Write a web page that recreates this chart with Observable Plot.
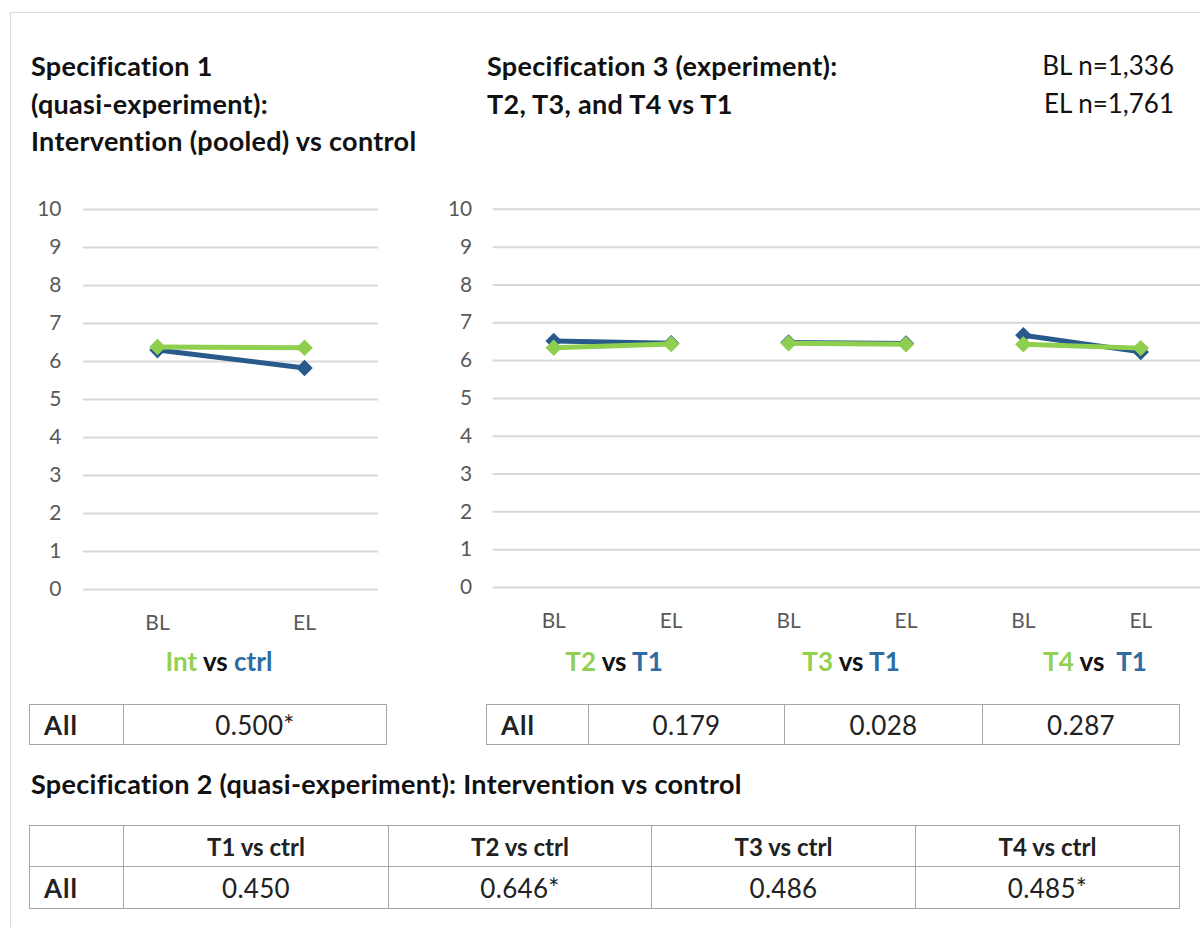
<!DOCTYPE html>
<html><head><meta charset="utf-8">
<script src="https://cdn.jsdelivr.net/npm/d3@7"></script>
<script src="https://cdn.jsdelivr.net/npm/@observablehq/plot@0.6"></script>
<style>
html,body{margin:0;padding:0;background:#fff;overflow:hidden;}
#root{position:relative;width:1200px;height:927px;overflow:hidden;font-family:Lato,"Open Sans",sans-serif;color:#111;}
.abs{position:absolute;}
.title{font-weight:700;font-size:27px;letter-spacing:0.3px;line-height:37.5px;white-space:nowrap;}
.ntext{font-weight:400;font-size:26px;line-height:37.5px;text-align:right;white-space:nowrap;}
.sub{font-weight:700;font-size:26px;white-space:nowrap;transform:translateX(-50%);line-height:28px;}
table{border-collapse:collapse;position:absolute;table-layout:fixed;}
td{border:1.5px solid #a6a6a6;padding:0;text-align:center;font-size:26px;letter-spacing:0.3px;color:#222;white-space:nowrap;}
td.lab{text-align:left;padding-left:14px;font-weight:700;letter-spacing:1px;}
td.hd{font-weight:700;font-size:24px;letter-spacing:0;}
</style></head>
<body><div id="root">
<div class="abs" style="left:10px;top:12px;width:1300px;height:1000px;border-top:1.5px solid #d9d9d9;border-left:1.5px solid #d9d9d9;"></div>
<div class="abs title" style="left:31px;top:47px;">Specification 1<br>(quasi-experiment):<br>Intervention (pooled) vs control</div>
<div class="abs title" style="left:487px;top:47px;">Specification 3 (experiment):<br>T2, T3, and T4 vs T1</div>
<div class="abs ntext" style="right:26px;top:47px;">BL n=1,336<br>EL n=1,761</div>
<div id="left" class="abs" style="left:0;top:180px;"></div>
<div id="right" class="abs" style="left:400px;top:180px;"></div>
<div id="subs"></div>
<div id="tables"></div>
<div class="abs title" style="left:31px;top:765px;">Specification 2 (quasi-experiment): Intervention vs control</div>
</div>
<script>
// ---- data ----
const periods = ["BL", "EL"];
const yTicks = [0, 1, 2, 3, 4, 5, 6, 7, 8, 9, 10];
// Specification 1: pooled intervention (green) vs control (blue)
const spec1Int = [6.38, 6.36];
const spec1Ctrl = [6.30, 5.83];
// Specification 3: T2, T3, T4 (green) vs T1 (blue)
const spec3Groups = ["T2", "T3", "T4"];
const spec3Treat = [[6.34, 6.44], [6.46, 6.43], [6.43, 6.33]];
const spec3T1 = [[6.52, 6.46], [6.48, 6.45], [6.67, 6.23]];
// tables
const spec1Label = "Int";
const spec1Table = ["0.500*"];
const spec3Table = ["0.179", "0.028", "0.287"];
const spec2Headers = ["T1 vs ctrl", "T2 vs ctrl", "T3 vs ctrl", "T4 vs ctrl"];
const spec2Table = ["0.450", "0.646*", "0.486", "0.485*"];

const GREEN = "#8fcf4f", BLUE = "#285a8c";
const TXT_GREEN = "#92d050", TXT_BLUE = "#2e6da4";

function build(rows, xDomain, opts) {
  const blue = rows.filter(d => d.series === "blue");
  const green = rows.filter(d => d.series === "green");
  return Plot.plot({
    width: opts.width, height: 469,
    marginTop: 29, marginBottom: 60, marginLeft: opts.marginLeft, marginRight: opts.marginRight,
    style: {color: "#595959", fontFamily: "Lato, 'Open Sans', sans-serif", background: "transparent"},
    x: {type: "point", domain: xDomain, padding: 0.5},
    y: {domain: [0, 10]},
    marks: [
      Plot.gridY(yTicks, {stroke: "#d9d9d9", strokeOpacity: 1, strokeWidth: 2}),
      Plot.axisY({ticks: yTicks, tickSize: 0, tickPadding: opts.yPad, fontSize: 21, label: null}),
      Plot.axisX({tickSize: 0, tickPadding: 26, fontSize: 21, label: null, tickFormat: d => d.split("-").pop()}),
      Plot.line(blue, {x: "key", y: "value", z: "group", stroke: BLUE, strokeWidth: 5}),
      Plot.dot(blue, {x: "key", y: "value", symbol: "diamond2", r: 6.5, fill: BLUE, stroke: BLUE}),
      Plot.line(green, {x: "key", y: "value", z: "group", stroke: GREEN, strokeWidth: 5}),
      Plot.dot(green, {x: "key", y: "value", symbol: "diamond2", r: 6.5, fill: GREEN, stroke: GREEN})
    ]
  });
}

// left chart
const leftRows = [];
periods.forEach((p, i) => {
  leftRows.push({key: p, value: spec1Ctrl[i], series: "blue", group: "ctrl"});
  leftRows.push({key: p, value: spec1Int[i], series: "green", group: "int"});
});
document.getElementById("left").append(build(leftRows, periods, {width: 390, marginLeft: 83, marginRight: 12, yPad: 22}));

// right chart
const rightRows = [];
const rightDomain = [];
spec3Groups.forEach((g, gi) => {
  periods.forEach((p, i) => {
    const key = g + "-" + p;
    rightDomain.push(key);
    rightRows.push({key, value: spec3T1[gi][i], series: "blue", group: g + "b"});
    rightRows.push({key, value: spec3Treat[gi][i], series: "green", group: g + "g"});
  });
});
document.getElementById("right").append(build(rightRows, rightDomain, {width: 804, marginLeft: 93, marginRight: 0, yPad: 21}));

// subtitles
const subs = document.getElementById("subs");
function sub(x, a, b, extra) {
  const d = document.createElement("div");
  d.className = "abs sub";
  d.style.left = x + "px"; d.style.top = "647px";
  d.innerHTML = `<span style="color:${TXT_GREEN}">${a}</span> vs ${extra ? "&nbsp;" : ""}<span style="color:${TXT_BLUE}">${b}</span>`;
  subs.append(d);
}
sub(219, spec1Label, "ctrl");
sub(614, spec3Groups[0], "T1");
sub(851, spec3Groups[1], "T1");
sub(1095, spec3Groups[2], "T1", true);

// tables
const tables = document.getElementById("tables");
function table(left, top, widths, rows, rowHeights) {
  const t = document.createElement("table");
  t.style.left = left + "px"; t.style.top = top + "px";
  t.style.width = widths.reduce((a, b) => a + b, 0) + "px";
  const cg = document.createElement("colgroup");
  widths.forEach(w => { const c = document.createElement("col"); c.style.width = w + "px"; cg.append(c); });
  t.append(cg);
  rows.forEach((r, ri) => {
    const tr = document.createElement("tr");
    tr.style.height = rowHeights[ri] + "px";
    r.forEach((c, ci) => {
      const td = document.createElement("td");
      td.textContent = c;
      if (ci === 0) td.className = "lab";
      else if (rows.length > 1 && ri === 0) td.className = "hd";
      tr.append(td);
    });
    t.append(tr);
  });
  tables.append(t);
}
table(29, 704, [94, 263], [["All", ...spec1Table]], [40]);
table(486, 704, [102, 196, 198, 197], [["All", ...spec3Table]], [40]);
table(29, 825, [94, 265, 263, 264, 264], [["", ...spec2Headers], ["All", ...spec2Table]], [41, 42]);
</script>
</body></html>
